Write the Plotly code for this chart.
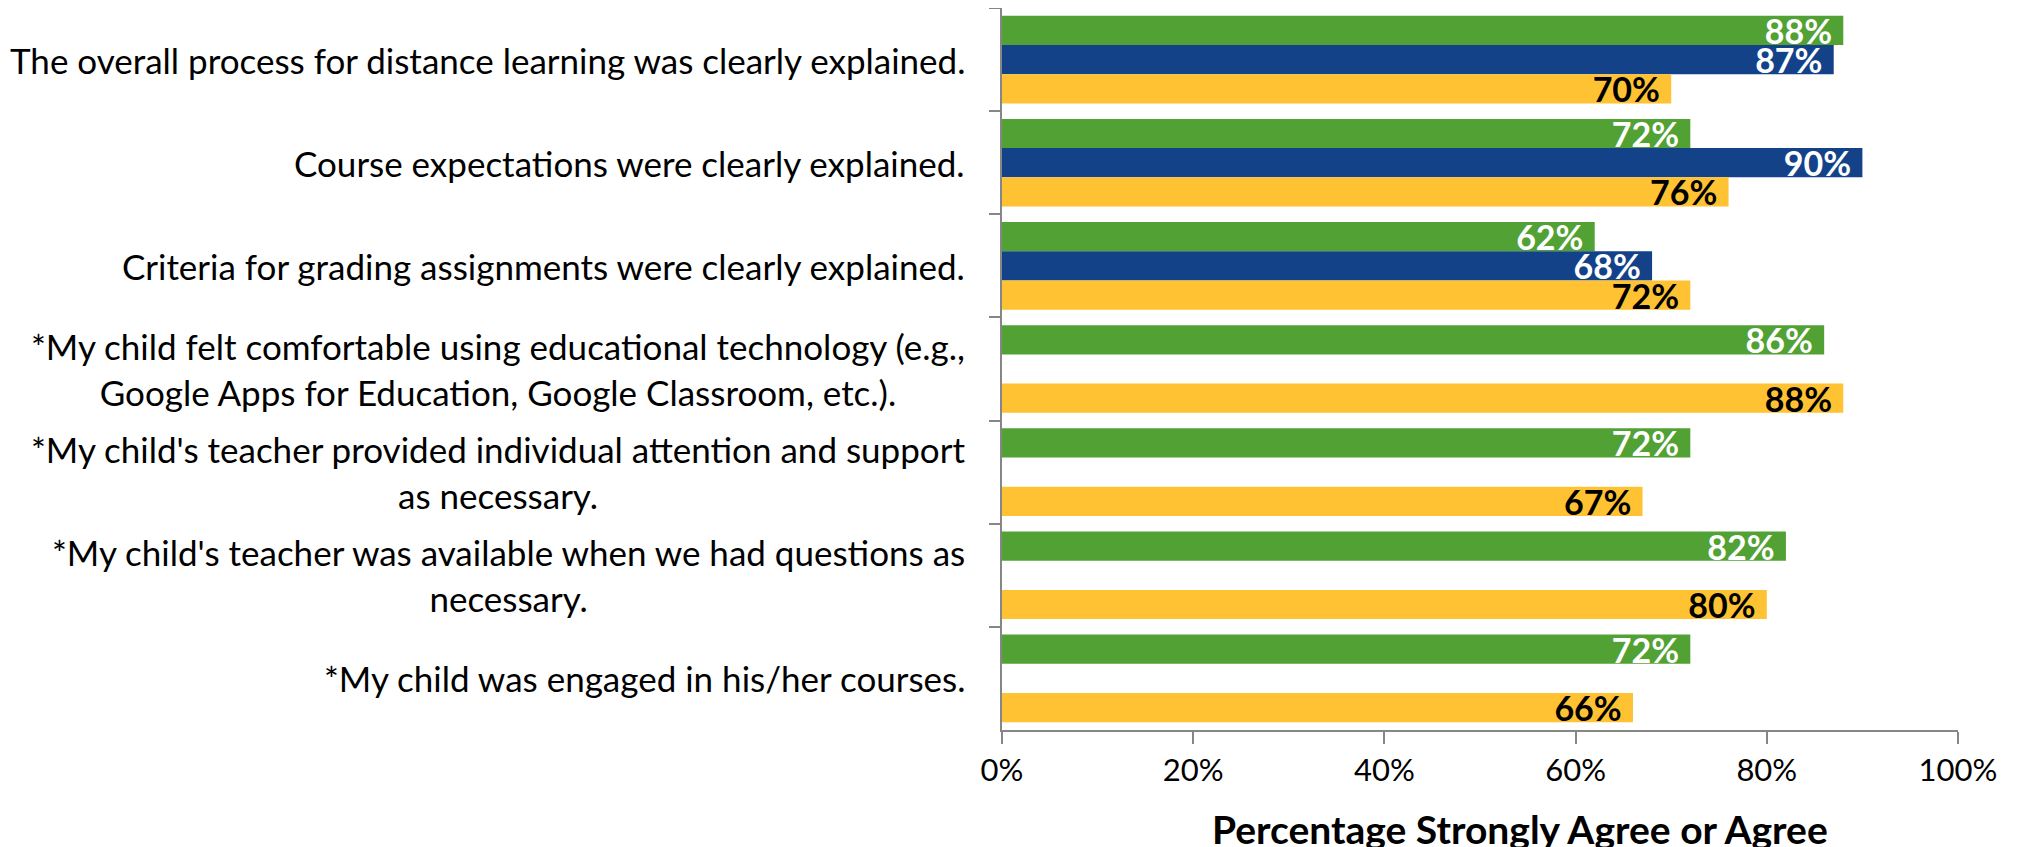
import plotly.graph_objects as go

categories = [
    "The overall process for distance learning was clearly explained.",
    "Course expectations were clearly explained.",
    "Criteria for grading assignments were clearly explained.",
    "*My child felt comfortable using educational technology (e.g.,<br>Google Apps for Education, Google Classroom, etc.).",
    "*My child's teacher provided individual attention and support<br>as necessary.",
    "*My child's teacher was available when we had questions as<br>necessary.",
    "*My child was engaged in his/her courses.",
]
green_vals = [88, 72, 62, 86, 72, 82, 72]
blue_vals = [87, 90, 68, None, None, None, None]
yellow_vals = [70, 76, 72, 88, 67, 80, 66]
x_tick_vals = [0, 20, 40, 60, 80, 100]
x_tick_text = [f"{v}%" for v in x_tick_vals]
x_title = "Percentage Strongly Agree or Agree"

FONT = "Lato, Open Sans, sans-serif"
GREEN = "#52A135"
BLUE = "#134289"
YELLOW = "#FFC232"
AXIS = "#868686"

fig = go.Figure()
series = [
    ("Series 1", green_vals, GREEN, "white"),
    ("Series 2", blue_vals, BLUE, "white"),
    ("Series 3", yellow_vals, YELLOW, "black"),
]
for name, vals, color, tcolor in series:
    fig.add_trace(go.Bar(
        y=categories, x=vals, orientation="h", name=name,
        marker=dict(color=color, line=dict(width=0)),
        texttemplate="%{x:.0f}%\u00a0", textposition="inside",
        insidetextanchor="end", constraintext="none",
        textfont=dict(family=FONT, size=34, color=tcolor, weight="bold"),
        hoverinfo="skip",
    ))

for cat in categories:
    fig.add_annotation(
        x=0, xref="paper", y=cat, yref="y", text=cat, showarrow=False,
        xanchor="right", yanchor="middle", align="center", xshift=-35,
        font=dict(family=FONT, size=35, color="black"),
    )

fig.add_annotation(
    x=0.542, xref="paper", y=-0.137, yref="paper", text="<b>" + x_title + "</b>",
    showarrow=False, xanchor="center", yanchor="middle",
    font=dict(family=FONT, size=39, color="black"),
)

fig.update_layout(
    width=2013, height=839,
    margin=dict(l=994, r=63, t=0, b=117, autoexpand=False),
    barmode="group", bargap=0.15, bargroupgap=0,
    showlegend=False,
    plot_bgcolor="white", paper_bgcolor="white",
    font=dict(family=FONT, size=31, color="black"),
)
fig.update_xaxes(
    range=[0, 100], tickvals=x_tick_vals, ticktext=x_tick_text,
    showgrid=False, zeroline=False,
    showline=True, linecolor=AXIS, linewidth=2,
    ticks="outside", ticklen=12, tickwidth=2, tickcolor=AXIS,
    tickfont=dict(family=FONT, size=31, color="black"),
    ticklabelstandoff=0,
)
fig.update_yaxes(
    autorange="reversed", type="category",
    showticklabels=False, showgrid=False, zeroline=False,
    showline=True, linecolor=AXIS, linewidth=2,
    ticks="outside", tickson="boundaries", ticklen=11, tickwidth=2, tickcolor=AXIS,
)

fig.write_html("out.html")
